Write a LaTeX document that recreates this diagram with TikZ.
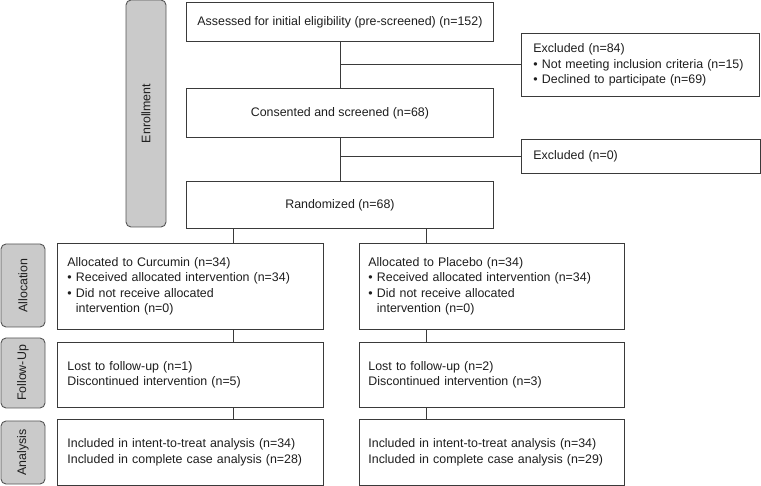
\documentclass[tikz,border=0pt]{standalone}
\usepackage{fontspec}
\setmainfont{Liberation Sans}
\usetikzlibrary{positioning,calc}

\definecolor{linegray}{HTML}{3A3A3A}
\definecolor{txtgray}{HTML}{1E1E1E}
\definecolor{sidefill}{HTML}{CACACA}
\definecolor{sidedraw}{HTML}{555555}
\newcommand{\flowfont}{\fontsize{12.4}{15.5}\selectfont}
\newcommand{\bul}{\textbullet\ }
\newcommand{\hang}{\phantom{\textbullet\ }}

\tikzset{
	flowbox/.style={draw=linegray, line width=0.9pt, fill=white, text=txtgray, font=\flowfont, inner ysep=0pt, anchor=north west},
	midbox/.style={flowbox, align=center, inner sep=0pt, minimum width=307pt, minimum height=#1},
	leftbox/.style={flowbox, align=left, inner xsep=10pt, text width=246pt, minimum height=#1},
	sidebox/.style={draw=sidedraw, line width=0.9pt, fill=sidefill, rounded corners=5pt, rotate=90, text=txtgray, font=\flowfont, inner sep=0pt},
	link/.style={draw=linegray, line width=0.9pt}
}

\begin{document}
\begin{tikzpicture}[x=1pt, y=-1pt]
	\useasboundingbox (0,0) rectangle (761,486);

	% stage labels
	\node[sidebox, minimum width=227pt, minimum height=40pt] (enroll) at (146,113.5) {Enrollment};
	\node[sidebox, minimum width=83pt, minimum height=44pt] (allocside) at (23,285.5) {Allocation};
	\node[sidebox, minimum width=70pt, minimum height=44pt] (followside) at (23,373) {Follow-Up};
	\node[sidebox, minimum width=63pt, minimum height=44pt] (analside) at (23,452.5) {Analysis};

	% enrollment
	\node[midbox=39pt] (assess) at (186,2) {Assessed for initial eligibility (pre-screened) (n=152)};
	\node[midbox=49pt] (consent) at (186,88) {Consented and screened (n=68)};
	\node[midbox=47pt] (random) at (186,181) {Randomized (n=68)};
	\node[flowbox, align=left, inner xsep=12pt, text width=214pt, minimum height=63pt] (exclA) at (521,33) {Excluded (n=84)\\\bul Not meeting inclusion criteria (n=15)\\\bul Declined to participate (n=69)};
	\node[flowbox, align=left, inner xsep=12pt, text width=215pt, minimum height=34pt] (exclB) at (521,139) {Excluded (n=0)};

	% curcumin arm
	\node[leftbox=86pt] (allocC) at (57,243) {Allocated to Curcumin (n=34)\\\bul Received allocated intervention (n=34)\\\bul Did not receive allocated\\\hang intervention (n=0)};
	\node[leftbox=65pt] (followC) at (57,342) {Lost to follow-up (n=1)\\Discontinued intervention (n=5)};
	\node[leftbox=66pt] (analC) at (57,419) {Included in intent-to-treat analysis (n=34)\\Included in complete case analysis (n=28)};

	% placebo arm
	\node[leftbox=86pt, inner xsep=9pt, text width=247pt] (allocP) at (359,243) {Allocated to Placebo (n=34)\\\bul Received allocated intervention (n=34)\\\bul Did not receive allocated\\\hang intervention (n=0)};
	\node[leftbox=65pt, inner xsep=9pt, text width=247pt] (followP) at (359,342) {Lost to follow-up (n=2)\\Discontinued intervention (n=3)};
	\node[leftbox=66pt, inner xsep=9pt, text width=247pt] (analP) at (359,419) {Included in intent-to-treat analysis (n=34)\\Included in complete case analysis (n=29)};

	% connectors
	\coordinate (armC) at (233.5,0);
	\coordinate (armP) at (426.5,0);
	\draw[link] (assess) -- (consent);
	\draw[link] (consent) -- (random);
	\draw[link] (exclA.west) -- (exclA.west -| assess.south);
	\draw[link] (exclB.west) -- (exclB.west -| consent.south);
	\draw[link] (random.south -| armC) -- (allocC.north -| armC);
	\draw[link] (random.south -| armP) -- (allocP.north -| armP);
	\draw[link] (allocC.south -| armC) -- (followC.north -| armC);
	\draw[link] (followC.south -| armC) -- (analC.north -| armC);
	\draw[link] (allocP.south -| armP) -- (followP.north -| armP);
	\draw[link] (followP.south -| armP) -- (analP.north -| armP);
\end{tikzpicture}
\end{document}
